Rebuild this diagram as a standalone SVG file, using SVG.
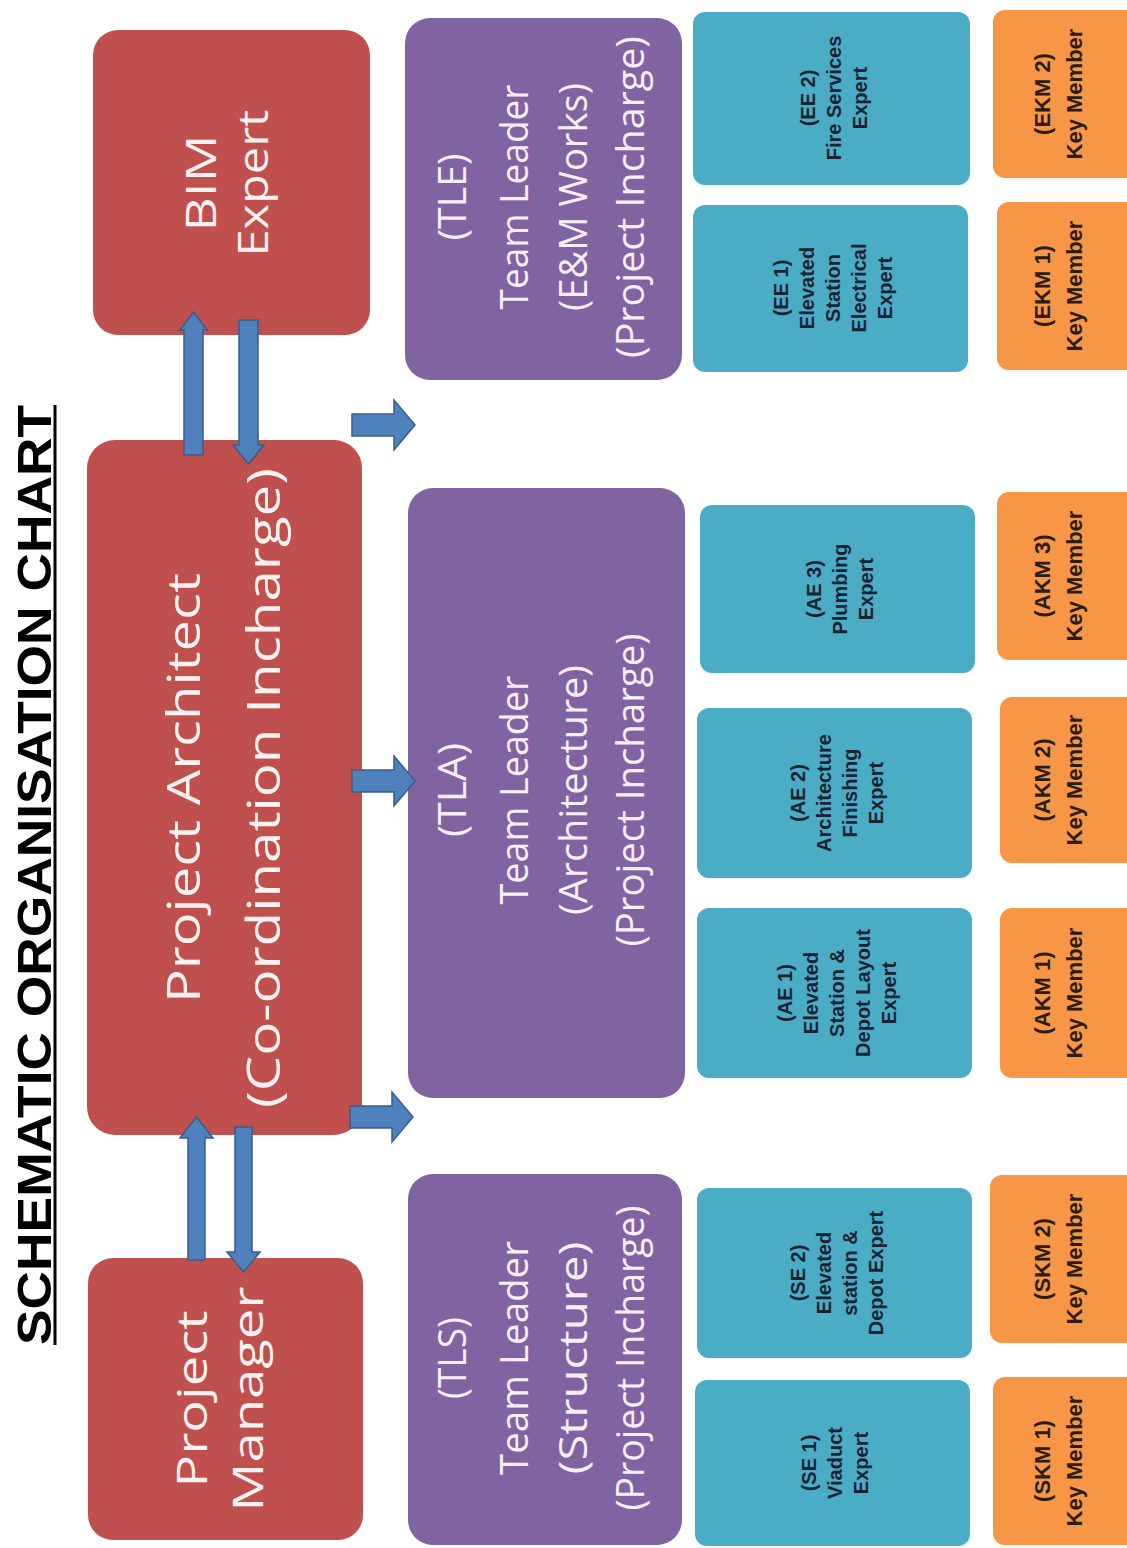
<svg xmlns="http://www.w3.org/2000/svg" width="1127" height="1548" viewBox="0 0 1127 1548">
<defs>
<style>
.red{fill:#C0504D}
.pur{fill:#8064A2}
.blu{fill:#4BACC6}
.org{fill:#F79646}
.title{font-family:"Liberation Sans",Arial,sans-serif;font-weight:700;font-size:48px;fill:#000;text-anchor:middle}
.big{font-family:"Open Sans","Liberation Sans",sans-serif;fill:#FCF1F1;text-anchor:middle}
.tl{font-family:"Open Sans","Liberation Sans",sans-serif;fill:#F6EEF7;font-size:38px;text-anchor:middle}
.sb{font-family:"Liberation Sans",Arial,sans-serif;font-weight:700;font-size:20px;fill:#1B2330;text-anchor:middle}
.so{font-family:"Liberation Sans",Arial,sans-serif;font-weight:700;font-size:22px;fill:#2B1D12;text-anchor:middle}
.arr{fill:#4F81BD;stroke:#385D8A;stroke-width:1.5;stroke-linejoin:miter}
</style>
</defs>
<rect width="1127" height="1548" fill="#FFFFFF"/>

<g id="title">
<text class="title" transform="translate(0,875) rotate(-90)" x="0" y="51" textLength="940" lengthAdjust="spacingAndGlyphs">SCHEMATIC ORGANISATION CHART</text>
<line x1="55" y1="405" x2="55" y2="1345" stroke="#000" stroke-width="3"/>
</g>

<g id="bim-expert">
<rect class="red" x="93" y="30" width="277" height="305" rx="25"/>
<g transform="translate(0,183) rotate(-90)">
<text class="big" font-size="42" x="0" y="216" textLength="97" lengthAdjust="spacingAndGlyphs">BIM</text>
<text class="big" font-size="42" x="0" y="268" textLength="147" lengthAdjust="spacingAndGlyphs">Expert</text>
</g>
</g>

<g id="project-architect">
<rect class="red" x="87" y="440" width="275" height="695" rx="28"/>
<g transform="translate(0,788) rotate(-90)">
<text class="big" font-size="46" x="0" y="200" textLength="430" lengthAdjust="spacingAndGlyphs">Project Architect</text>
<text class="big" font-size="46" x="0" y="280" textLength="640" lengthAdjust="spacingAndGlyphs">(Co-ordination Incharge)</text>
</g>
</g>

<g id="project-manager">
<rect class="red" x="88" y="1258" width="275" height="282" rx="25"/>
<g transform="translate(0,1399) rotate(-90)">
<text class="big" font-size="42" x="0" y="207" textLength="177" lengthAdjust="spacingAndGlyphs">Project</text>
<text class="big" font-size="42" x="0" y="263" textLength="225" lengthAdjust="spacingAndGlyphs">Manager</text>
</g>
</g>

<g id="tle">
<rect class="pur" x="405" y="18" width="277" height="362" rx="25"/>
<g transform="translate(0,197) rotate(-90)">
<text class="tl" x="0" y="466" textLength="87" lengthAdjust="spacingAndGlyphs">(TLE)</text>
<text class="tl" x="0" y="528" textLength="225" lengthAdjust="spacingAndGlyphs">Team Leader</text>
<text class="tl" x="0" y="587" textLength="228" lengthAdjust="spacingAndGlyphs">(E&amp;M Works)</text>
<text class="tl" x="0" y="644" textLength="322" lengthAdjust="spacingAndGlyphs">(Project Incharge)</text>
</g>
</g>

<g id="tla">
<rect class="pur" x="408" y="488" width="277" height="610" rx="25"/>
<g transform="translate(0,790) rotate(-90)">
<text class="tl" x="0" y="466" textLength="94" lengthAdjust="spacingAndGlyphs">(TLA)</text>
<text class="tl" x="0" y="528" textLength="229" lengthAdjust="spacingAndGlyphs">Team Leader</text>
<text class="tl" x="0" y="587" textLength="250" lengthAdjust="spacingAndGlyphs">(Architecture)</text>
<text class="tl" x="0" y="644" textLength="313" lengthAdjust="spacingAndGlyphs">(Project Incharge)</text>
</g>
</g>

<g id="tls">
<rect class="pur" x="408" y="1174" width="274" height="371" rx="25"/>
<g transform="translate(0,1358) rotate(-90)">
<text class="tl" x="0" y="466" textLength="82" lengthAdjust="spacingAndGlyphs">(TLS)</text>
<text class="tl" x="0" y="528" textLength="234" lengthAdjust="spacingAndGlyphs">Team Leader</text>
<text class="tl" x="0" y="587" textLength="233" lengthAdjust="spacingAndGlyphs">(Structure)</text>
<text class="tl" x="0" y="644" textLength="305" lengthAdjust="spacingAndGlyphs">(Project Incharge)</text>
</g>
</g>

<g id="ee2">
<rect class="blu" x="693" y="12" width="277" height="173" rx="12"/>
<text class="sb" transform="translate(0,98) rotate(-90)"><tspan x="0" y="814.5">(EE 2)</tspan><tspan x="0" y="840.5">Fire Services</tspan><tspan x="0" y="866.5">Expert</tspan></text>
</g>
<g id="ee1">
<rect class="blu" x="693" y="205" width="275" height="167" rx="12"/>
<text class="sb" transform="translate(0,288) rotate(-90)"><tspan x="0" y="787.5">(EE 1)</tspan><tspan x="0" y="813.5">Elevated</tspan><tspan x="0" y="839.5">Station</tspan><tspan x="0" y="865.5">Electrical</tspan><tspan x="0" y="891.5">Expert</tspan></text>
</g>
<g id="ae3">
<rect class="blu" x="700" y="505" width="275" height="168" rx="12"/>
<text class="sb" transform="translate(0,589) rotate(-90)"><tspan x="0" y="820.5">(AE 3)</tspan><tspan x="0" y="846.5">Plumbing</tspan><tspan x="0" y="872.5">Expert</tspan></text>
</g>
<g id="ae2">
<rect class="blu" x="697" y="708" width="275" height="170" rx="12"/>
<text class="sb" transform="translate(0,793) rotate(-90)"><tspan x="0" y="804.5">(AE 2)</tspan><tspan x="0" y="830.5">Architecture</tspan><tspan x="0" y="856.5">Finishing</tspan><tspan x="0" y="882.5">Expert</tspan></text>
</g>
<g id="ae1">
<rect class="blu" x="697" y="908" width="275" height="170" rx="12"/>
<text class="sb" transform="translate(0,993) rotate(-90)"><tspan x="0" y="791.5">(AE 1)</tspan><tspan x="0" y="817.5">Elevated</tspan><tspan x="0" y="843.5">Station &amp;</tspan><tspan x="0" y="869.5">Depot Layout</tspan><tspan x="0" y="895.5">Expert</tspan></text>
</g>
<g id="se2">
<rect class="blu" x="697" y="1188" width="275" height="170" rx="12"/>
<text class="sb" transform="translate(0,1273) rotate(-90)"><tspan x="0" y="804.5">(SE 2)</tspan><tspan x="0" y="830.5">Elevated</tspan><tspan x="0" y="856.5">station &amp;</tspan><tspan x="0" y="882.5">Depot Expert</tspan></text>
</g>
<g id="se1">
<rect class="blu" x="695" y="1380" width="275" height="166" rx="12"/>
<text class="sb" transform="translate(0,1463) rotate(-90)"><tspan x="0" y="815.5">(SE 1)</tspan><tspan x="0" y="841.5">Viaduct</tspan><tspan x="0" y="867.5">Expert</tspan></text>
</g>

<g id="ekm2">
<rect class="org" x="993" y="10" width="150" height="168" rx="12"/>
<text class="so" transform="translate(0,94) rotate(-90)"><tspan x="0" y="1050">(EKM 2)</tspan><tspan x="0" y="1082">Key Member</tspan></text>
</g>
<g id="ekm1">
<rect class="org" x="997" y="202" width="150" height="168" rx="12"/>
<text class="so" transform="translate(0,286) rotate(-90)"><tspan x="0" y="1050">(EKM 1)</tspan><tspan x="0" y="1082">Key Member</tspan></text>
</g>
<g id="akm3">
<rect class="org" x="997" y="492" width="150" height="168" rx="12"/>
<text class="so" transform="translate(0,576) rotate(-90)"><tspan x="0" y="1050">(AKM 3)</tspan><tspan x="0" y="1082">Key Member</tspan></text>
</g>
<g id="akm2">
<rect class="org" x="1000" y="697" width="150" height="166" rx="12"/>
<text class="so" transform="translate(0,780) rotate(-90)"><tspan x="0" y="1050">(AKM 2)</tspan><tspan x="0" y="1082">Key Member</tspan></text>
</g>
<g id="akm1">
<rect class="org" x="1000" y="908" width="150" height="170" rx="12"/>
<text class="so" transform="translate(0,993) rotate(-90)"><tspan x="0" y="1050">(AKM 1)</tspan><tspan x="0" y="1082">Key Member</tspan></text>
</g>
<g id="skm2">
<rect class="org" x="990" y="1175" width="150" height="168" rx="12"/>
<text class="so" transform="translate(0,1259) rotate(-90)"><tspan x="0" y="1050">(SKM 2)</tspan><tspan x="0" y="1082">Key Member</tspan></text>
</g>
<g id="skm1">
<rect class="org" x="993" y="1377" width="150" height="168" rx="12"/>
<text class="so" transform="translate(0,1461) rotate(-90)"><tspan x="0" y="1050">(SKM 1)</tspan><tspan x="0" y="1082">Key Member</tspan></text>
</g>

<g id="connectors">
<polygon class="arr" points="184,455 184,330 180,330 193.5,312 207,330 203,330 203,455"/>
<polygon class="arr" points="239,320 258,320 258,445 264,445 248.5,464 233,445 239,445"/>
<polygon class="arr" points="188,1260 188,1138 180,1138 196.5,1117 213,1138 205,1138 205,1260"/>
<polygon class="arr" points="235,1127 252,1127 252,1252 260,1252 243.5,1272 227,1252 235,1252"/>
<polygon class="arr" points="352,414 394,414 394,400 415,425 394,450 394,436 352,436"/>
<polygon class="arr" points="352,770 394,770 394,756 415,781 394,806 394,792 352,792"/>
<polygon class="arr" points="350,1106 392,1106 392,1092 413,1117 392,1142 392,1128 350,1128"/>
</g>
</svg>
